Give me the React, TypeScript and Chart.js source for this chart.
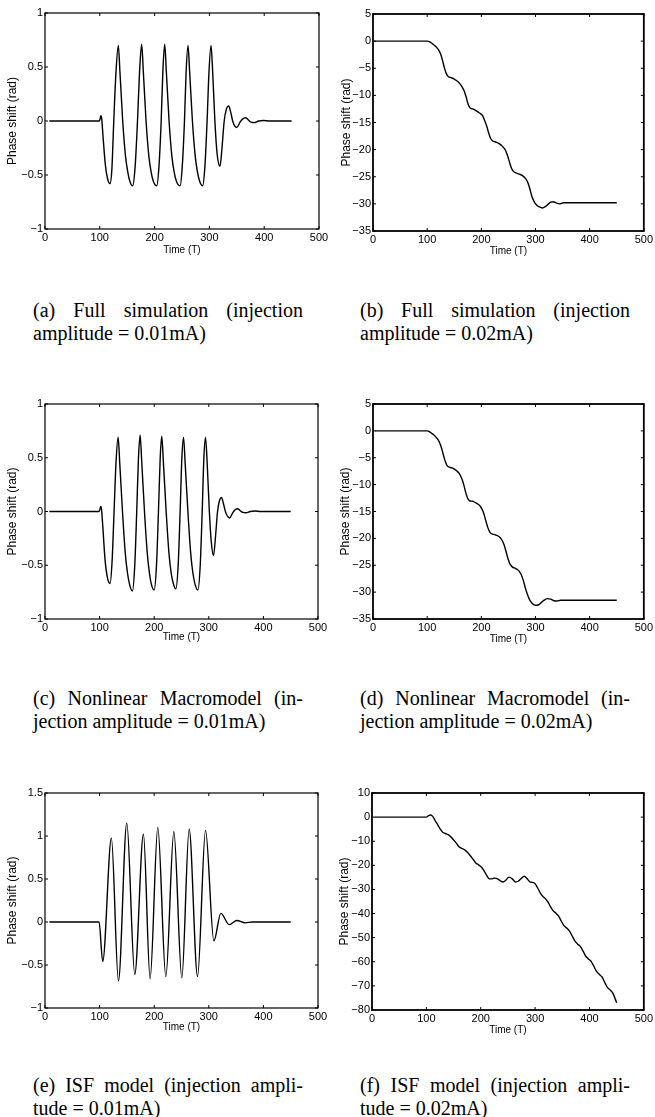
import React, { useEffect, useRef } from 'react';
import { Chart, registerables } from 'chart.js';

Chart.register(...registerables);

const SANS = "'Liberation Sans', Arial, Helvetica, sans-serif";
const SERIF = "'Liberation Serif', 'Times New Roman', Times, serif";

// Shared time-axis ticks
const TIME_TICKS = [0, 100, 200, 300, 400, 500];

// Phase-axis ticks for each panel
const Y_TICKS_SMALL = [-1, -0.5, 0, 0.5, 1];
const Y_TICKS_STEP = [-35, -30, -25, -20, -15, -10, -5, 0, 5];
const Y_TICKS_ISF_SMALL = [-1, -0.5, 0, 0.5, 1, 1.5];
const Y_TICKS_ISF_LARGE = [-80, -70, -60, -50, -40, -30, -20, -10, 0, 10];

// (a) full simulation, 0.01mA — [time, phase]
const fullSimSmall: [number, number][] = [
  [8, 0], [99, 0], [100.5, 0.02], [102, 0.05], [103.5, 0.02], [106, -0.15], [110, -0.4], [114, -0.53], [118.6, -0.58],
  [122, -0.45], [125.5, 0.0], [129.5, 0.45], [133.8, 0.7],
  [136.8, 0.45], [141.8, 0.0], [146.8, -0.32], [151, -0.47], [155, -0.56], [160, -0.6],
  [164.5, -0.42], [168.8, 0.0], [172.5, 0.45], [176.4, 0.71],
  [179.4, 0.46], [184.4, 0.0], [189.4, -0.32], [193.6, -0.47], [197.8, -0.56], [203.8, -0.6],
  [208, -0.42], [212, 0.0], [215, 0.45], [218.4, 0.71],
  [221.4, 0.46], [226.4, 0.0], [231.4, -0.32], [235.6, -0.47], [240, -0.56], [246.4, -0.6],
  [250.5, -0.42], [254.5, 0.0], [257.5, 0.45], [261, 0.7],
  [264, 0.45], [269, 0.0], [274, -0.32], [278.2, -0.47], [282.4, -0.56], [287.7, -0.6],
  [291.8, -0.42], [295.8, 0.0], [299.2, 0.45], [303, 0.7],
  [306, 0.45], [310, 0.0], [314, -0.3], [319.3, -0.42],
  [323, -0.25], [327, 0.0], [331, 0.11], [335.2, 0.14], [339, 0.08], [343, -0.01], [349.8, -0.06],
  [356, -0.01], [360, 0.015], [366.2, 0.03], [372, 0.005], [376, -0.01], [381.4, -0.015], [390, 0.0],
  [398, 0.005], [410, 0.0], [450, 0.0],
];

// (b) full simulation, 0.02mA
const fullSimLarge: [number, number][] = [
  [2, 0], [100, 0], [104, -0.1], [110, -0.5], [116, -1.0], [121, -1.6], [125, -2.4], [128, -3.4], [131.5, -4.8],
  [135, -5.9], [138.5, -6.5], [143, -6.7], [150, -7.0], [157, -7.5], [163, -8.2], [168, -9.1], [172, -10.3],
  [175.5, -11.6], [179, -12.3], [184, -12.5], [190, -12.8], [196, -13.2], [202, -13.7], [206, -14.6], [210, -15.7],
  [213.5, -16.9], [217, -17.9], [221, -18.4], [227, -18.6], [233, -18.9], [239, -19.4], [244, -20.0], [248, -21.0],
  [252, -22.3], [255.5, -23.4], [259, -24.0], [264, -24.3], [270, -24.5], [276, -24.8], [282, -25.4], [286, -26.1],
  [289.5, -27.2], [293, -28.5], [297, -29.5], [302, -30.2], [307, -30.55], [313, -30.75], [318, -30.5], [323, -30.1],
  [328, -29.7], [333, -29.6], [338, -29.8], [344, -30.0], [352, -29.8], [450, -29.8],
];

// (c) nonlinear macromodel, 0.01mA
const macroSmall: [number, number][] = [
  [8, 0], [99, 0], [100.5, 0.02], [102, 0.046], [103.5, 0.02], [106, -0.15], [110, -0.45], [114.5, -0.62], [119.2, -0.67],
  [123, -0.45], [126.5, 0.0], [130, 0.45], [133.9, 0.69],
  [136.9, 0.45], [141.9, 0.0], [146.9, -0.38], [151, -0.57], [155, -0.68], [160.1, -0.74],
  [164.4, -0.5], [168, 0.0], [171.2, 0.5], [174.2, 0.71],
  [177.2, 0.46], [182.2, 0.0], [187.2, -0.38], [191.2, -0.57], [195, -0.68], [199.9, -0.73],
  [204.2, -0.5], [207.8, 0.0], [211, 0.5], [213.9, 0.7],
  [216.9, 0.45], [221.9, 0.0], [226.9, -0.38], [231, -0.57], [235, -0.67], [239.6, -0.72],
  [243.9, -0.5], [247.5, 0.0], [250.7, 0.5], [253.7, 0.69],
  [256.7, 0.45], [261.7, 0.0], [266.7, -0.38], [270.8, -0.57], [275, -0.68], [280, -0.73],
  [284.3, -0.5], [287.9, 0.0], [291, 0.5], [294, 0.69],
  [297, 0.45], [301, 0.0], [304.5, -0.28], [308.7, -0.41],
  [312.5, -0.22], [316, 0.0], [320, 0.11], [323.3, 0.13], [327, 0.07], [331, -0.01], [338, -0.06],
  [344, -0.01], [348, 0.015], [352.7, 0.025], [358, 0.005], [362, -0.008], [368, -0.012], [376, 0.0],
  [385, 0.004], [395, 0.0], [450, 0.0],
];

// (d) nonlinear macromodel, 0.02mA
const macroLarge: [number, number][] = [
  [4, 0], [100, 0], [103, -0.1], [109, -0.5], [114, -0.9], [119, -1.5], [123, -2.2], [126.5, -3.2], [130, -4.5],
  [133.5, -5.7], [137, -6.5], [141, -6.75], [147, -6.95], [153, -7.3], [159, -7.9], [164, -8.9], [167.5, -10.0],
  [171, -11.4], [174.5, -12.5], [178, -13.0], [184, -13.1], [190, -13.4], [196, -13.8], [201, -14.5], [205, -15.5],
  [208.5, -16.8], [212, -18.0], [216, -18.9], [221, -19.2], [227, -19.4], [233, -19.7], [238, -20.3], [242, -21.2],
  [245.5, -22.4], [249, -23.7], [252.5, -24.7], [257, -25.3], [263, -25.6], [269, -26.0], [274, -26.8], [278, -28.0],
  [281.5, -29.3], [285, -30.4], [289, -31.4], [294, -32.1], [300, -32.45], [305, -32.4], [310, -32.0], [316, -31.5],
  [322, -31.2], [328, -31.3], [334, -31.6], [340, -31.65], [346, -31.5], [355, -31.5], [450, -31.5],
];

// (e) ISF model, 0.01mA
const isfSmall: [number, number][] = [
  [8, 0], [99, 0], [105.7, -0.46], [121.6, 0.975], [134.5, -0.685], [149.8, 1.15], [164.4, -0.61],
  [180.3, 1.02], [192.5, -0.66], [206.6, 1.1], [221.3, -0.635], [236, 1.05], [250.6, -0.65],
  [264, 1.08], [279.4, -0.635], [294, 1.065], [309.3, -0.22], [322.1, 0.1], [337.4, -0.03],
  [351.5, 0.017], [366.7, -0.01], [380, 0.0], [450, 0.0],
];

// (f) ISF model, 0.02mA
const isfLarge: [number, number][] = [
  [5, 0], [100, 0], [104, 0.6], [108, 0.9], [112, 0.2], [116, -1.4], [121, -3.2], [125, -4.8], [130, -6.3],
  [135, -6.8], [140, -7.3], [145, -8.2], [150, -9.4], [155, -10.8], [160, -12.3], [165, -13.0], [170, -13.5],
  [175, -14.5], [180, -15.8], [186, -17.5], [191, -19.0], [196, -19.8], [201, -20.7], [206, -22.2], [211, -24.2],
  [216, -25.6], [221, -25.6], [226, -25.3], [231, -25.6], [236, -26.4], [241, -26.9], [246, -26.2], [252, -24.9],
  [258, -25.6], [264, -26.9], [269, -26.6], [274, -25.6], [280, -24.5], [285, -25.5], [290, -26.8], [295, -27.1],
  [300, -27.6], [305, -29.5], [310, -31.6], [314, -32.8], [318, -33.6], [323, -35.0], [328, -37.0], [333, -38.8],
  [338, -39.8], [343, -41.0], [348, -43.0], [353, -45.0], [358, -46.0], [363, -47.2], [368, -49.2], [373, -51.3],
  [378, -52.6], [383, -53.6], [388, -55.5], [393, -57.6], [398, -58.8], [403, -59.8], [408, -61.8], [413, -64.0],
  [418, -65.2], [423, -66.3], [428, -68.5], [433, -70.6], [438, -71.7], [443, -73.0], [448, -75.8], [450, -77.0],
];

const CAPTION_A = ['(a) Full simulation (injection', 'amplitude = 0.01mA)'];
const CAPTION_B = ['(b) Full simulation (injection', 'amplitude = 0.02mA)'];
const CAPTION_C = ['(c) Nonlinear Macromodel (in-', 'jection amplitude = 0.01mA)'];
const CAPTION_D = ['(d) Nonlinear Macromodel (in-', 'jection amplitude = 0.02mA)'];
const CAPTION_E = ['(e) ISF model (injection ampli-', 'tude = 0.01mA)'];
const CAPTION_F = ['(f) ISF model (injection ampli-', 'tude = 0.02mA)'];

type Panel = {
  curve: [number, number][];
  yTicks: number[];
  left: number;
  top: number;
  width: number;
  height: number;
  yAxisW: number;
  xAxisH: number;
  padRight: number;
  box: number;
};

const PANELS: Panel[] = [
  { curve: fullSimSmall, yTicks: Y_TICKS_SMALL, left: 5, top: 3, width: 328, height: 253, yAxisW: 40, xAxisH: 27, padRight: 14, box: 1.2 },
  { curve: fullSimLarge, yTicks: Y_TICKS_STEP, left: 339, top: 4, width: 316, height: 253, yAxisW: 34, xAxisH: 26, padRight: 10, box: 1.8 },
  { curve: macroSmall, yTicks: Y_TICKS_SMALL, left: 5, top: 394, width: 327, height: 249, yAxisW: 40, xAxisH: 24, padRight: 14, box: 1.2 },
  { curve: macroLarge, yTicks: Y_TICKS_STEP, left: 338, top: 394, width: 317, height: 251, yAxisW: 35, xAxisH: 26, padRight: 9, box: 1.8 },
  { curve: isfSmall, yTicks: Y_TICKS_ISF_SMALL, left: 5, top: 783, width: 327, height: 250, yAxisW: 40, xAxisH: 25, padRight: 14, box: 1.2 },
  { curve: isfLarge, yTicks: Y_TICKS_ISF_LARGE, left: 337, top: 783, width: 318, height: 253, yAxisW: 35, xAxisH: 26, padRight: 10, box: 1.8 },
];

const CAPTIONS = [
  { lines: CAPTION_A, left: 33, top: 298.5 },
  { lines: CAPTION_B, left: 360, top: 298.5 },
  { lines: CAPTION_C, left: 33, top: 687 },
  { lines: CAPTION_D, left: 360, top: 687 },
  { lines: CAPTION_E, left: 33, top: 1073.5 },
  { lines: CAPTION_F, left: 360, top: 1073.5 },
];

const fmt = (v: number) => (v < 0 ? '\u2212' + String(-v) : String(v));

// Closed axes box with short inward ticks on all four sides
const boxPlugin = (lineWidth: number) => ({
  id: 'axesBox',
  afterDraw(chart: any) {
    const { ctx, chartArea: a, scales } = chart;
    const len = 3;
    ctx.save();
    ctx.strokeStyle = '#000';
    ctx.lineWidth = 1;
    ctx.beginPath();
    for (const t of scales.x.ticks) {
      const px = scales.x.getPixelForValue(t.value);
      ctx.moveTo(px, a.bottom);
      ctx.lineTo(px, a.bottom - len);
      ctx.moveTo(px, a.top);
      ctx.lineTo(px, a.top + len);
    }
    for (const t of scales.y.ticks) {
      const py = scales.y.getPixelForValue(t.value);
      ctx.moveTo(a.left, py);
      ctx.lineTo(a.left + len, py);
      ctx.moveTo(a.right, py);
      ctx.lineTo(a.right - len, py);
    }
    ctx.stroke();
    ctx.lineWidth = lineWidth;
    ctx.strokeRect(a.left, a.top, a.right - a.left, a.bottom - a.top);
    ctx.restore();
  },
});

function PhasePlot({ p }: { p: Panel }) {
  const ref = useRef<HTMLCanvasElement>(null);
  useEffect(() => {
    const canvas = ref.current;
    if (!canvas) return;
    const yMin = p.yTicks[0];
    const yMax = p.yTicks[p.yTicks.length - 1];
    const chart = new Chart(canvas, {
      type: 'line',
      data: {
        datasets: [
          {
            data: p.curve.map(([x, y]) => ({ x, y })),
            borderColor: '#000',
            borderWidth: 1.4,
            pointRadius: 0,
            fill: false,
            cubicInterpolationMode: 'monotone',
          },
        ],
      },
      options: {
        animation: false,
        responsive: false,
        maintainAspectRatio: false,
        devicePixelRatio: 1,
        events: [],
        layout: { padding: { left: 0, top: 10, right: p.padRight, bottom: 0 } },
        plugins: { legend: { display: false }, tooltip: { enabled: false } },
        scales: {
          x: {
            type: 'linear',
            min: 0,
            max: 500,
            afterBuildTicks: (s: any) => {
              s.ticks = TIME_TICKS.map((value) => ({ value }));
            },
            afterFit: (s: any) => {
              s.height = p.xAxisH;
            },
            ticks: {
              color: '#000',
              font: { family: SANS, size: 11 },
              padding: 2,
              maxRotation: 0,
              autoSkip: false,
              callback: (v: any) => fmt(Number(v)),
            },
            grid: { display: false, drawTicks: false },
            border: { display: false },
            title: {
              display: true,
              text: 'Time (T)',
              color: '#000',
              font: { family: SANS, size: 10 },
              padding: 0,
            },
          },
          y: {
            type: 'linear',
            min: yMin,
            max: yMax,
            afterBuildTicks: (s: any) => {
              s.ticks = p.yTicks.map((value) => ({ value }));
            },
            afterFit: (s: any) => {
              s.width = p.yAxisW;
            },
            ticks: {
              color: '#000',
              font: { family: SANS, size: 11 },
              padding: 2,
              autoSkip: false,
              callback: (v: any) => fmt(Number(v)),
            },
            grid: { display: false, drawTicks: false },
            border: { display: false },
            title: {
              display: true,
              text: 'Phase shift (rad)',
              color: '#000',
              font: { family: SANS, size: 12 },
              padding: 0,
            },
          },
        },
      },
      plugins: [boxPlugin(p.box)],
    } as any);
    return () => chart.destroy();
  }, [p]);
  return (
    <canvas
      ref={ref}
      width={p.width}
      height={p.height}
      style={{ position: 'absolute', left: p.left, top: p.top, width: p.width, height: p.height }}
    />
  );
}

function Caption({ lines, left, top }: { lines: string[]; left: number; top: number }) {
  return (
    <div
      style={{
        position: 'absolute',
        left,
        top,
        width: 270,
        fontFamily: SERIF,
        fontSize: 20,
        lineHeight: '23px',
        color: '#000',
      }}
    >
      <div style={{ textAlign: 'justify', textAlignLast: 'justify', whiteSpace: 'nowrap' as any }}>{lines[0]}</div>
      <div style={{ whiteSpace: 'nowrap' }}>{lines[1]}</div>
    </div>
  );
}

export default function App() {
  return (
    <div
      style={{
        position: 'absolute',
        left: 0,
        top: 0,
        width: 655,
        height: 1117,
        overflow: 'hidden',
        background: '#fff',
      }}
    >
      {PANELS.map((p, i) => (
        <PhasePlot key={i} p={p} />
      ))}
      {CAPTIONS.map((c, i) => (
        <Caption key={i} lines={c.lines} left={c.left} top={c.top} />
      ))}
    </div>
  );
}
